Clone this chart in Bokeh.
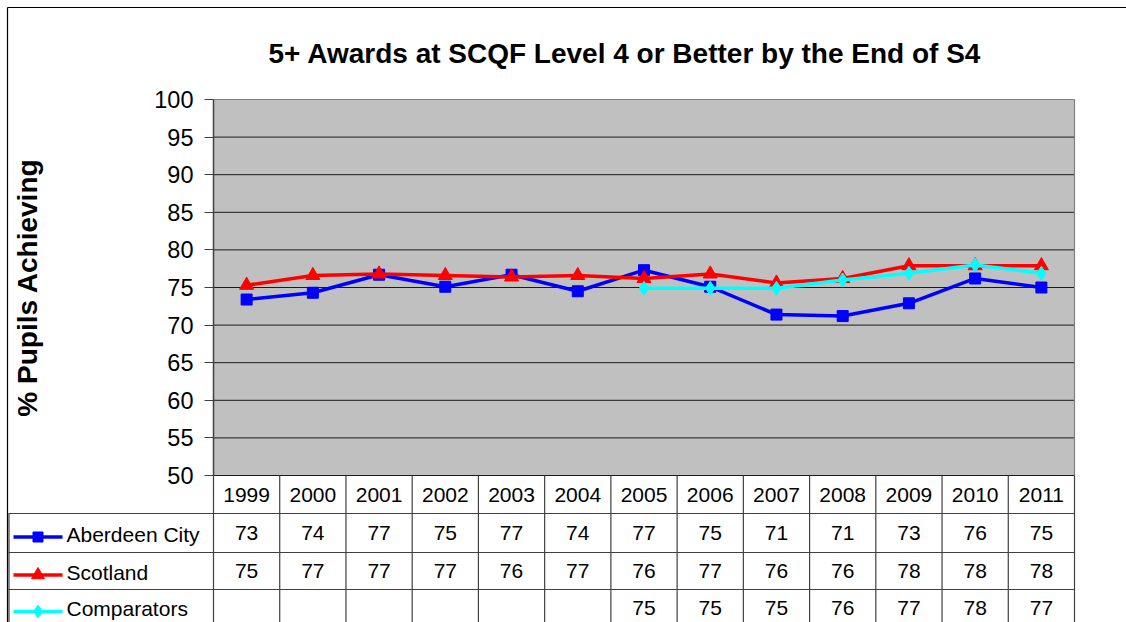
import math
from bokeh.plotting import figure
from bokeh.models import FixedTicker, Range1d
from bokeh.core.properties import value
from bokeh.embed import file_html
from bokeh.resources import INLINE

years = ["1999", "2000", "2001", "2002", "2003", "2004", "2005",
         "2006", "2007", "2008", "2009", "2010", "2011"]
aberdeen = [73.4, 74.3, 76.7, 75.1, 76.7, 74.5, 77.3, 75.1, 71.4, 71.2, 72.9, 76.2, 75.0]
scotland = [75.3, 76.6, 76.8, 76.6, 76.4, 76.6, 76.2, 76.8, 75.6, 76.2, 77.9, 77.9, 77.9]
nan = float("nan")
comparators = [nan, nan, nan, nan, nan, nan, 74.9, 74.9, 74.9, 76.0, 76.9, 78.0, 76.9]

aberdeen_table = ["73", "74", "77", "75", "77", "74", "77", "75", "71", "71", "73", "76", "75"]
scotland_table = ["75", "77", "77", "77", "76", "77", "76", "77", "76", "76", "78", "78", "78"]
comparators_table = ["", "", "", "", "", "", "75", "75", "75", "76", "77", "78", "77"]

series_names = ["Aberdeen City", "Scotland", "Comparators"]
series_colors = ["#0000FF", "#FF0000", "#00FFFF"]
y_ticks = [50, 55, 60, 65, 70, 75, 80, 85, 90, 95, 100]
title_text = "5+ Awards at SCQF Level 4 or Better by the End of S4"
y_label = "% Pupils Achieving"

FONT = "Liberation Sans"
W, H = 1126, 622
n = len(years)
ymin, ymax = y_ticks[0], y_ticks[-1]

# layout of the plot area inside the canvas (pixels)
PL, PR, PT, PB = 213, 1074, 99, 475
sx = (PR - PL) / n                 # px per category
sy = (PB - PT) / (ymax - ymin)     # px per value unit


def xd(px):
    return (px - PL) / sx


def yd(py):
    return ymax - (py - PT) / sy


p = figure(width=W, height=H,
           x_range=Range1d(xd(0), xd(W)), y_range=Range1d(yd(H), yd(0)),
           x_axis_location=None, output_backend="svg", toolbar_location=None,
           min_border_left=0, min_border_right=0, min_border_top=0,
           min_border_bottom=0)
p.outline_line_color = None
p.background_fill_color = "white"
p.border_fill_color = "white"
p.xgrid.visible = False
p.ygrid.visible = False

# grey plot area
p.quad(left=[0], right=[n], bottom=[ymin], top=[ymax], fill_color="#C0C0C0", line_color=None)
# gridlines
p.segment(x0=[0] * (len(y_ticks) - 1), x1=[n] * (len(y_ticks) - 1), y0=y_ticks[:-1], y1=y_ticks[:-1],
          line_color="#1a1a1a", line_width=1)
p.segment(x0=[0, n], x1=[n, n], y0=[ymax, ymin], y1=[ymax, ymax], line_color="#808080", line_width=1.2)

# y axis pinned at the plot area's left edge
ax = p.yaxis[0]
ax.fixed_location = 0
ax.bounds = (ymin, ymax)
ax.ticker = FixedTicker(ticks=y_ticks)
ax.axis_line_color = "#404040"
ax.axis_line_width = 1.5
ax.major_tick_line_color = "#404040"
ax.major_tick_out = 9
ax.major_tick_in = 0
ax.minor_tick_line_color = None
ax.major_label_text_font = FONT
ax.major_label_text_font_size = "23.5px"
ax.major_label_text_color = "black"
ax.major_label_standoff = 11
ax.axis_label = y_label
ax.axis_label_text_font = FONT
ax.axis_label_text_font_style = "bold"
ax.axis_label_text_font_size = "28px"
ax.axis_label_text_color = "black"
ax.axis_label_standoff = 108

# title
p.text(x=[xd(624.5)], y=[yd(53)], text=[title_text], text_font=value(FONT),
       text_font_style="bold", text_font_size="28px", text_align="center",
       text_baseline="alphabetic", text_color="black")

# series
xc = [i + 0.5 for i in range(n)]
markers = ["square", "triangle", "diamond"]
sizes = [11, 14, 14]
for vals, col, mk, sz in zip([aberdeen, scotland, comparators], series_colors, markers, sizes):
    p.line(x=xc, y=vals, line_color=col, line_width=3.5)
    xs = [x for x, v in zip(xc, vals) if not math.isnan(v)]
    ys = [v for v in vals if not math.isnan(v)]
    p.scatter(x=xs, y=ys, marker=mk, size=sz, fill_color=col, line_color=col)

# ---------------- data table ----------------
row_lines = [513, 552, 589]
row_centers = [494, 532.5, 570.5, 607]
line_col = "#404040"
vx = list(range(0, n + 1))
p.segment(x0=vx, y0=[ymin] * len(vx), x1=vx, y1=[yd(H + 5)] * len(vx),
          line_color=line_col, line_width=1.2)
p.segment(x0=[xd(8)] * 3, x1=[n] * 3, y0=[yd(r) for r in row_lines], y1=[yd(r) for r in row_lines],
          line_color=line_col, line_width=1.2)
p.segment(x0=[xd(8.5)], x1=[xd(8.5)], y0=[yd(row_lines[0])], y1=[yd(H + 5)],
          line_color=line_col, line_width=1.2)
# outer chart border (left and top)
p.segment(x0=[xd(7), xd(7)], x1=[xd(7), xd(W + 5)], y0=[yd(H + 5), yd(7)], y1=[yd(7), yd(7)],
          line_color="black", line_width=1.2)

txt_kw = dict(text_font=value(FONT), text_font_size="21px", text_align="center",
              text_baseline="middle", text_color="black")
p.text(x=xc, y=[yd(row_centers[0])] * n, text=years, **txt_kw)
for r, tab in enumerate([aberdeen_table, scotland_table, comparators_table]):
    p.text(x=xc, y=[yd(row_centers[r + 1])] * n, text=tab, **txt_kw)

# legend keys inside table
for r, (name, col, mk, sz) in enumerate(zip(series_names, series_colors, markers, sizes)):
    yk = yd(row_centers[r + 1] + 4)
    p.segment(x0=[xd(13)], y0=[yk], x1=[xd(62)], y1=[yk], line_color=col, line_width=3.5)
    p.scatter(x=[xd(37.5)], y=[yk], marker=mk, size=sz - 1, fill_color=col, line_color=col)
    p.text(x=[xd(66)], y=[yd(row_centers[r + 1] + 1)], text=[name], text_font=value(FONT),
           text_font_size="21px", text_align="left", text_baseline="middle",
           text_color="black")

open("out.html", "w").write(file_html(p, INLINE))
